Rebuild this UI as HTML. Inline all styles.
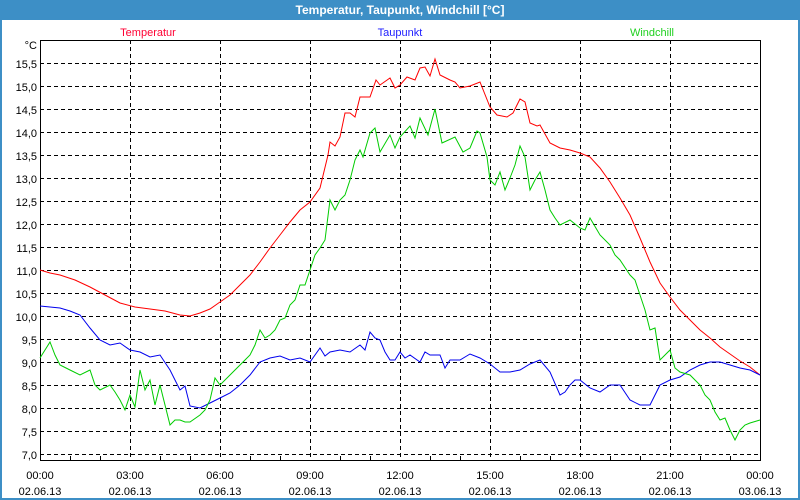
<!DOCTYPE html>
<html><head><meta charset="utf-8"><style>
html,body{margin:0;padding:0;background:#fff}
svg{display:block}
text{font-family:"Liberation Sans",sans-serif;font-size:11px}
</style></head><body>
<svg width="800" height="500" xmlns="http://www.w3.org/2000/svg">
<rect x="0" y="0" width="800" height="500" fill="#fff"/>
<rect x="0" y="0" width="800" height="20" fill="#3d8fc6"/>
<rect x="0" y="0" width="2" height="500" fill="#3d8fc6"/>
<rect x="798" y="0" width="2" height="500" fill="#3d8fc6"/>
<rect x="0" y="498" width="800" height="2" fill="#3d8fc6"/>
<text x="400" y="14" text-anchor="middle" fill="#fff" font-weight="bold" style="font-size:12px">Temperatur, Taupunkt, Windchill [°C]</text>
<text x="148" y="36" text-anchor="middle" fill="#ff0033">Temperatur</text>
<text x="400" y="36" text-anchor="middle" fill="#2020ff">Taupunkt</text>
<text x="652" y="36" text-anchor="middle" fill="#20d020">Windchill</text>
<g stroke="#000" stroke-dasharray="4,3" stroke-width="1">
<line x1="40" y1="63.5" x2="760" y2="63.5"/><line x1="40" y1="86.5" x2="760" y2="86.5"/>
<line x1="40" y1="109.5" x2="760" y2="109.5"/><line x1="40" y1="132.5" x2="760" y2="132.5"/>
<line x1="40" y1="155.5" x2="760" y2="155.5"/><line x1="40" y1="178.5" x2="760" y2="178.5"/>
<line x1="40" y1="201.5" x2="760" y2="201.5"/><line x1="40" y1="224.5" x2="760" y2="224.5"/>
<line x1="40" y1="247.5" x2="760" y2="247.5"/><line x1="40" y1="270.5" x2="760" y2="270.5"/>
<line x1="40" y1="293.5" x2="760" y2="293.5"/><line x1="40" y1="316.5" x2="760" y2="316.5"/>
<line x1="40" y1="339.5" x2="760" y2="339.5"/><line x1="40" y1="362.5" x2="760" y2="362.5"/>
<line x1="40" y1="385.5" x2="760" y2="385.5"/><line x1="40" y1="408.5" x2="760" y2="408.5"/>
<line x1="40" y1="431.5" x2="760" y2="431.5"/><line x1="40" y1="454.5" x2="760" y2="454.5"/>
<line x1="130.5" y1="40" x2="130.5" y2="460"/><line x1="220.5" y1="40" x2="220.5" y2="460"/>
<line x1="310.5" y1="40" x2="310.5" y2="460"/><line x1="400.5" y1="40" x2="400.5" y2="460"/>
<line x1="490.5" y1="40" x2="490.5" y2="460"/><line x1="580.5" y1="40" x2="580.5" y2="460"/>
<line x1="670.5" y1="40" x2="670.5" y2="460"/>
</g>
<rect x="40.5" y="40.5" width="720" height="420" fill="none" stroke="#000" stroke-width="1"/>
<g stroke="#000">
<line x1="70.5" y1="456" x2="70.5" y2="460"/><line x1="100.5" y1="456" x2="100.5" y2="460"/>
<line x1="160.5" y1="456" x2="160.5" y2="460"/><line x1="190.5" y1="456" x2="190.5" y2="460"/>
<line x1="250.5" y1="456" x2="250.5" y2="460"/><line x1="280.5" y1="456" x2="280.5" y2="460"/>
<line x1="340.5" y1="456" x2="340.5" y2="460"/><line x1="370.5" y1="456" x2="370.5" y2="460"/>
<line x1="430.5" y1="456" x2="430.5" y2="460"/><line x1="460.5" y1="456" x2="460.5" y2="460"/>
<line x1="520.5" y1="456" x2="520.5" y2="460"/><line x1="550.5" y1="456" x2="550.5" y2="460"/>
<line x1="610.5" y1="456" x2="610.5" y2="460"/><line x1="640.5" y1="456" x2="640.5" y2="460"/>
<line x1="700.5" y1="456" x2="700.5" y2="460"/><line x1="730.5" y1="456" x2="730.5" y2="460"/>
</g>
<g text-anchor="end" fill="#000">
<text x="37" y="49">°C</text>
<text x="37" y="68">15,5</text><text x="37" y="91">15,0</text><text x="37" y="114">14,5</text>
<text x="37" y="137">14,0</text><text x="37" y="160">13,5</text><text x="37" y="183">13,0</text>
<text x="37" y="206">12,5</text><text x="37" y="229">12,0</text><text x="37" y="252">11,5</text>
<text x="37" y="275">11,0</text><text x="37" y="298">10,5</text><text x="37" y="321">10,0</text>
<text x="37" y="344">9,5</text><text x="37" y="367">9,0</text><text x="37" y="390">8,5</text>
<text x="37" y="413">8,0</text><text x="37" y="436">7,5</text><text x="37" y="459">7,0</text>
</g>
<g text-anchor="middle" fill="#000">
<text x="40" y="479">00:00</text><text x="40" y="495">02.06.13</text>
<text x="130" y="479">03:00</text><text x="130" y="495">02.06.13</text>
<text x="220" y="479">06:00</text><text x="220" y="495">02.06.13</text>
<text x="310" y="479">09:00</text><text x="310" y="495">02.06.13</text>
<text x="400" y="479">12:00</text><text x="400" y="495">02.06.13</text>
<text x="490" y="479">15:00</text><text x="490" y="495">02.06.13</text>
<text x="580" y="479">18:00</text><text x="580" y="495">02.06.13</text>
<text x="670" y="479">21:00</text><text x="670" y="495">02.06.13</text>
<text x="760" y="479">00:00</text><text x="760" y="495">03.06.13</text>
</g>
<polyline fill="none" stroke="#ff0000" stroke-width="1" points="40,270 50,273 60,275 75,280 90,287 105,295 120,303 135,307 150,309 165,311 180,315 190,316 200,313 210,309 220,302 230,295 240,285 250,275 260,262 270,248 280,235 290,222 300,210 310,202 320,188 328,155 330,142 335,146 340,137 345,113 350,113 355,117 360,97 370,97 376,80 380,85 390,78 395,88 400,85 407,77 415,80 420,68 425,67 430,76 435,59 440,75 450,80 455,82 460,88 470,86 480,82 490,107 497,115 507,117 513,113 520,99 525,102 530,123 537,126 540,125 550,143 560,148 570,150 580,153 590,157 600,168 610,182 620,198 630,215 640,238 650,262 660,283 670,297 680,310 690,320 700,330 710,338 720,347 730,354 740,361 750,367 760,375"/>
<polyline fill="none" stroke="#0000ee" stroke-width="1" points="40,306 50,307 60,308 70,311 80,315 90,328 100,340 110,345 120,343 130,350 140,352 150,357 160,355 170,370 175,380 180,390 185,386 190,406 200,408 210,403 220,398 230,393 240,385 250,375 260,362 270,358 280,356 290,360 300,358 310,362 320,348 325,356 330,352 340,350 350,352 360,345 365,350 370,332 375,338 380,340 385,352 390,360 395,360 400,352 405,358 410,355 420,362 425,352 430,355 440,355 445,368 450,360 460,360 470,354 480,358 490,364 500,372 510,372 520,370 530,364 540,360 550,372 560,395 565,392 570,385 575,380 580,380 590,388 600,392 610,385 620,385 630,400 640,405 650,405 660,385 670,380 680,377 690,370 700,365 710,362 720,362 730,365 740,368 750,370 760,375"/>
<polyline fill="none" stroke="#00cc00" stroke-width="1" points="40,358 45,350 50,342 55,355 60,365 70,370 80,375 90,370 95,385 100,390 110,385 115,392 120,400 125,410 130,395 135,407 140,370 145,390 150,380 155,405 160,385 165,405 170,425 175,420 180,420 185,422 190,422 200,415 205,410 210,400 215,378 220,385 230,375 240,365 245,360 250,355 255,345 260,330 265,338 270,335 275,330 280,320 285,318 290,305 295,300 300,285 305,285 310,270 315,255 320,248 325,240 330,200 335,210 340,200 345,195 350,180 355,160 360,150 363,157 370,133 375,128 380,152 390,135 395,148 400,137 410,126 415,138 420,118 428,135 435,109 442,143 455,137 463,152 470,148 477,131 480,133 487,157 490,180 495,185 500,172 505,190 510,178 515,165 520,146 525,157 530,190 535,180 540,172 545,190 550,210 555,218 560,225 570,220 580,228 585,230 590,218 600,235 610,245 615,255 620,260 630,275 635,280 640,295 645,310 650,330 655,328 660,360 665,355 670,350 675,368 680,372 690,375 695,380 700,385 705,395 710,400 715,412 720,420 725,418 730,430 735,440 740,430 745,425 750,423 760,420"/>
</svg>
</body></html>
